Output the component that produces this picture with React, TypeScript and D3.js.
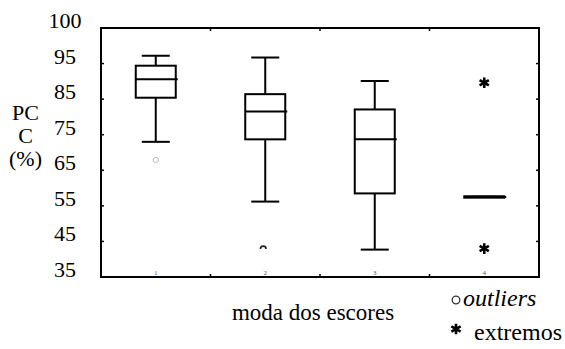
import React from "react";
import * as d3 from "d3";

// box plot summary per mode category
const categories = ["1", "2", "3", "4"];
const mins = [73.0, 56.2, 42.7, 57.5];
const q1s = [85.4, 73.7, 58.5, 57.3];
const medians = [90.6, 81.5, 73.7, 57.5];
const q3s = [94.4, 86.4, 82.1, 57.7];
const maxs = [97.2, 96.7, 90.1, 57.5];

const outlierCats = ["1", "2"];
const outlierValues = [67.9, 42.9];
const extremeCats = ["4", "4"];
const extremeValues = [89.6, 43.0];

const yTickValues = [35, 45, 55, 65, 75, 85, 95, 105];
const yTickLabels = ["35", "45", "55", "65", "75", "85", "95", "100"];
const yTitle = ["PC", "C", "(%)"];

const W = 565;
const H = 349;
const left = 101;
const right = 539;
const top = 28;
const bottom = 277;

const App = () => {
    const x = d3.scaleBand().domain(categories).range([left, right]).padding(0);
    const y = d3.scaleLinear().domain([35, 105]).range([bottom, top]);
    const boxW = 40;
    const capW = 28;
    const cx = (c: string) => (x(c) as number) + x.bandwidth() / 2;

    const star = d3.symbol().type(d3.symbolAsterisk).size(80)();
    const halfRing = d3.arc()({
        innerRadius: 2,
        outerRadius: 3.6,
        startAngle: -Math.PI / 2,
        endAngle: Math.PI / 2,
    } as any);

    return (
        <svg width={W} height={H}
            style={{ position: "absolute", left: 0, top: 0, background: "#fff" }}>
            <style>{`.t { font-family: "Liberation Serif"; font-size: 22px; }`}</style>
            {/* frame */}
            <rect x={left} y={top} width={right - left} height={bottom - top}
                fill="none" stroke="#000" strokeWidth={2} />
            {yTickValues.slice(1, -1).map((t) => (
                <g key={"yt" + t}>
                    <line x1={left} x2={left + 3} y1={y(t)} y2={y(t)} stroke="#000" strokeWidth={1.5} />
                    <line x1={right} x2={right - 3} y1={y(t)} y2={y(t)} stroke="#000" strokeWidth={1.5} />
                </g>
            ))}
            {categories.slice(0, -1).map((c) => {
                const bx = (x(c) as number) + x.bandwidth();
                return (
                    <g key={"xt" + c}>
                        <line x1={bx} x2={bx} y1={bottom} y2={bottom - 3} stroke="#000" strokeWidth={1.5} />
                        <line x1={bx} x2={bx} y1={top} y2={top + 3} stroke="#000" strokeWidth={1.5} />
                    </g>
                );
            })}
            {categories.map((c) => (
                <text key={"xl" + c} className="t" x={cx(c)} y={bottom - 2} fill="#555"
                    textAnchor="middle" style={{ fontSize: 7 }}>{c}</text>
            ))}

            {/* y axis labels */}
            {yTickValues.map((t, i) => (
                <text key={"yl" + t} className="t" x={65} y={y(t)} textAnchor="middle">
                    {yTickLabels[i]}
                </text>
            ))}
            {yTitle.map((s, i) => (
                <text key={"ttl" + i} className="t" x={25.5} y={120 + i * 23}
                    textAnchor="middle">{s}</text>
            ))}

            {/* boxes */}
            {categories.map((c, i) => {
                const m = cx(c);
                return (
                    <g key={"box" + c} stroke="#000" strokeWidth={2} fill="none">
                        <line x1={m} x2={m} y1={y(maxs[i])} y2={y(q3s[i])} />
                        <line x1={m} x2={m} y1={y(q1s[i])} y2={y(mins[i])} />
                        <line x1={m - capW / 2} x2={m + capW / 2} y1={y(maxs[i])} y2={y(maxs[i])} />
                        <line x1={m - capW / 2} x2={m + capW / 2} y1={y(mins[i])} y2={y(mins[i])} />
                        <rect x={m - boxW / 2} y={y(q3s[i])} width={boxW}
                            height={y(q1s[i]) - y(q3s[i])} />
                        <line x1={m - boxW / 2} x2={m + boxW / 2 + 2} y1={y(medians[i])} y2={y(medians[i])} />
                    </g>
                );
            })}

            {/* outliers */}
            {outlierCats.map((c, i) =>
                i === 0 ? (
                    <circle key={"o" + i} cx={cx(c)} cy={y(outlierValues[i])} r={2.6}
                        fill="none" stroke="#bbb" strokeWidth={1} />
                ) : (
                    <path key={"o" + i} d={halfRing as string} fill="#222"
                        transform={`translate(${cx(c) - 2},${y(outlierValues[i])})`} />
                )
            )}
            {extremeCats.map((c, i) => (
                <path key={"e" + i} d={star as string} fill="none" stroke="#000" strokeWidth={2.6}
                    transform={`translate(${cx(c)},${y(extremeValues[i])})`} />
            ))}

            {/* axis title and legend */}
            <text className="t" x={313} y={320} textAnchor="middle" style={{ fontSize: 23 }}>
                moda dos escores
            </text>
            <circle cx={456} cy={300} r={3.8} fill="none" stroke="#333" strokeWidth={1.3} />
            <text className="t" x={463} y={306} fontStyle="italic" style={{ fontSize: 24 }}>outliers</text>
            <path d={star as string} fill="none" stroke="#000" strokeWidth={2.6}
                transform="translate(456,329)" />
            <text className="t" x={474} y={340} style={{ fontSize: 24 }}>extremos</text>
        </svg>
    );
};

export default App;
